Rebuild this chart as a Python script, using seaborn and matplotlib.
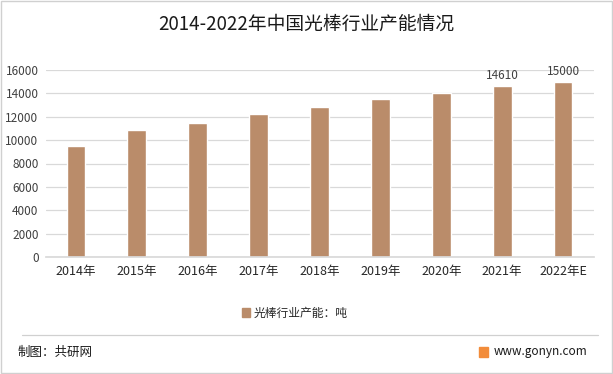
import matplotlib
matplotlib.use("Agg")
import matplotlib.pyplot as plt
import matplotlib.patches as mpatches
import matplotlib.lines as mlines
import seaborn as sns
import pandas as pd

# 数据
years = ["2014年", "2015年", "2016年", "2017年", "2018年", "2019年", "2020年", "2021年", "2022年E"]
capacity = [9500, 10900, 11500, 12200, 12800, 13500, 14000, 14610, 15000]
labelled = {7: "14610", 8: "15000"}
yticks = [0, 2000, 4000, 6000, 8000, 10000, 12000, 14000, 16000]

bar_color = "#BA8C6A"

sns.set_theme(style="white")
plt.rcParams["font.family"] = ["Noto Sans CJK SC", "DejaVu Sans"]

df = pd.DataFrame({"年份": years, "产能": capacity})

fig = plt.figure(figsize=(6.13, 3.74), dpi=100)
ax = fig.add_axes([45.5 / 613, 1 - 257 / 374, 548 / 613, 187 / 374])

sns.barplot(data=df, x="年份", y="产能", color=bar_color, width=0.31,
            saturation=1, ax=ax, zorder=3)

ax.set_ylim(0, 16000)
ax.set_xlim(-0.5, 8.5)
ax.set_yticks(yticks)
ax.set_yticklabels([str(t) for t in yticks], fontsize=8.5, color="#404040")
ax.tick_params(axis="x", labelsize=9, colors="#262626", pad=6, length=0)
ax.tick_params(axis="y", length=0, pad=5)
ax.set_xlabel("")
ax.set_ylabel("")
ax.yaxis.grid(True, color="#D9D9D9", linewidth=0.9, zorder=0)
for s in ["top", "right", "left"]:
    ax.spines[s].set_visible(False)
ax.spines["bottom"].set_color("#D9D9D9")
ax.spines["bottom"].set_zorder(4)

for i, txt in labelled.items():
    ax.text(i, capacity[i] + 350, txt, ha="center", va="bottom",
            fontsize=8.5, color="#404040")

# 标题
fig.text(0.5, 1 - 24 / 374, "2014-2022年中国光棒行业产能情况", ha="center",
         va="center", fontsize=13.5, color="#1a1a1a")

# 图例
handle = mpatches.Patch(color=bar_color, label="光棒行业产能：吨")
fig.legend(handles=[handle], loc="center", bbox_to_anchor=(295 / 613, 1 - 313 / 374),
           frameon=False, fontsize=8.5, handlelength=0.7, handleheight=0.7,
           handletextpad=0.3)

# 分隔线与页脚
fig.add_artist(mlines.Line2D([22 / 613, 598 / 613], [1 - 335 / 374, 1 - 335 / 374],
                             color="#D0D0D0", linewidth=0.9))
fig.text(18 / 613, 1 - 352 / 374, "制图：共研网", ha="left", va="center",
         fontsize=9, color="#1a1a1a")
fig.text(494 / 613, 1 - 352 / 374, "www.gonyn.com", ha="left", va="center",
         fontsize=8.5, color="#1a1a1a")
fig.add_artist(mpatches.Rectangle((479 / 613, 1 - 357 / 374), 9 / 613, 10 / 374,
                                  color="#F28C3A", transform=fig.transFigure))

# 外框
fig.add_artist(mpatches.Rectangle((1 / 613, 1 / 374), 611 / 613, 372 / 374,
                                  fill=False, edgecolor="#D0D0D0", linewidth=1,
                                  transform=fig.transFigure))

fig.savefig("out.png", dpi=100)
